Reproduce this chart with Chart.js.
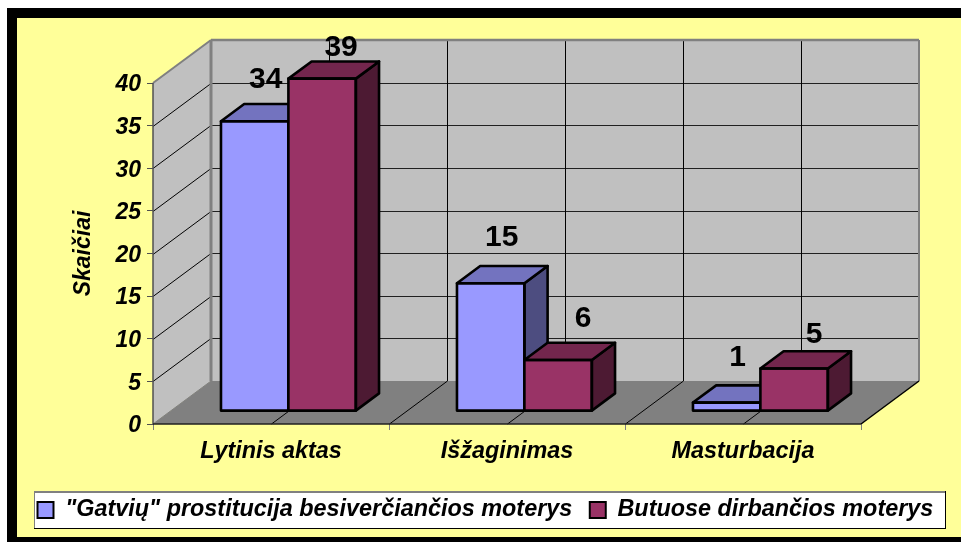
<!DOCTYPE html>
<html>
<head>
<meta charset="utf-8">
<script src="https://cdn.jsdelivr.net/npm/chart.js@4"></script>
<style>
    html, body { margin: 0; padding: 0; background: #ffffff; }
    #chart { display: block; }
</style>
</head>
<body>
<canvas id="chart" width="961" height="542"></canvas>
<script>
const categories = ['Lytinis aktas', 'Išžaginimas', 'Masturbacija'];
const seriesNames = ['"Gatvių" prostitucija besiverčiančios moterys', 'Butuose dirbančios moterys'];
const streetValues = [34, 15, 1];
const indoorValues = [39, 6, 5];

const font = 'Liberation Sans, Arial, sans-serif';
const depthX = 58;
const depthY = 43;
const wall = '#c0c0c0';
const edge = '#808080';

function poly(ctx, pts, fill, stroke, width) {
    ctx.beginPath();
    pts.forEach((p, i) => i ? ctx.lineTo(p[0], p[1]) : ctx.moveTo(p[0], p[1]));
    ctx.closePath();
    if (fill) { ctx.fillStyle = fill; ctx.fill(); }
    if (stroke) { ctx.strokeStyle = stroke; ctx.lineWidth = width; ctx.lineJoin = 'round'; ctx.stroke(); }
}

function line(ctx, x1, y1, x2, y2, color, width) {
    ctx.beginPath();
    ctx.moveTo(x1, y1);
    ctx.lineTo(x2, y2);
    ctx.strokeStyle = color;
    ctx.lineWidth = width;
    ctx.stroke();
}

const frame = {
    id: 'frame',
    afterLayout(chart) {
        // legend sits in its own box, not centred under the plot
        const lg = chart.legend;
        lg.left = 20;
        lg.right = 961;
        lg.top = 510 - lg.options.labels.font.size / 2 - lg.options.labels.padding;
        lg.bottom = 528;
    },
    beforeDraw(chart) {
        const ctx = chart.ctx;
        ctx.save();
        ctx.fillStyle = '#000000';
        ctx.fillRect(7, 8, 954, 534);
        ctx.fillStyle = '#ffff99';
        ctx.fillRect(17, 18, 944, 519);
        // legend box
        ctx.fillStyle = '#ffffff';
        ctx.fillRect(35, 491, 910, 37);
        line(ctx, 34.5, 491, 34.5, 529, edge, 1);
        line(ctx, 34, 492, 946, 492, edge, 2);
        line(ctx, 945.5, 491, 945.5, 529, '#000000', 1);
        line(ctx, 34, 528.5, 946, 528.5, '#000000', 1);
        ctx.restore();
    },
    beforeDatasetsDraw(chart) {
        const ctx = chart.ctx;
        const y = chart.scales.y;
        const l = chart.chartArea.left;
        const r = chart.chartArea.right;
        const t = chart.chartArea.top;
        const b = chart.chartArea.bottom;

        ctx.save();
        // walls and floor
        poly(ctx, [[l + depthX, t - depthY], [r + depthX, t - depthY], [r + depthX, b - depthY], [l + depthX, b - depthY]], wall);
        poly(ctx, [[l, b], [l, t], [l + depthX, t - depthY], [l + depthX, b - depthY]], wall);
        poly(ctx, [[l, b], [r, b], [r + depthX, b - depthY], [l + depthX, b - depthY]], edge);

        // horizontal grid on both walls
        y.ticks.forEach(tick => {
            if (tick.value === 0 || tick.value === y.max) return;
            const py = Math.round(y.getPixelForValue(tick.value)) + 0.5;
            line(ctx, l, py, l + depthX, py - depthY, '#000000', 1);
            line(ctx, l + depthX, py - depthY, r + depthX, py - depthY, '#202020', 1);
        });
        // vertical grid at category edges and centres
        const half = (r - l) / (categories.length * 2);
        for (let i = 1; i < categories.length * 2; i++) {
            const px = Math.round(l + half * i) + 0.5;
            line(ctx, px + depthX, t - depthY, px + depthX, b - depthY, '#000000', 1);
            line(ctx, px, b, px + depthX, b - depthY, '#000000', 1);
        }
        // wall edges
        line(ctx, l, t, l + depthX, t - depthY, edge, 2);
        line(ctx, l + depthX, t - depthY, r + depthX, t - depthY, edge, 2.5);
        line(ctx, l + depthX, t - depthY, l + depthX, b - depthY, edge, 3);
        line(ctx, r + depthX, t - depthY, r + depthX, b - depthY, edge, 2);
        line(ctx, l, b, l + depthX, b - depthY, edge, 1);
        line(ctx, r, b, r + depthX, b - depthY, '#000000', 1.5);

        // bars stand in the middle of the floor depth
        const ox = depthX * 0.3;
        const oy = -depthY * 0.3;
        const bx = depthX * 0.4;
        const by = -depthY * 0.4;
        const tops = ['#7373bf', '#73264d'];
        const sides = ['#4d4d80', '#4d1a33'];
        [0, 1].forEach(i => {
            const meta = chart.getDatasetMeta(i);
            ctx.save();
            ctx.translate(ox, oy);
            meta.controller.draw();
            ctx.restore();
            meta.data.forEach(bar => {
                const x0 = bar.x - bar.width / 2 + ox;
                const x1 = bar.x + bar.width / 2 + ox;
                const y0 = bar.y + oy;
                const y1 = bar.base + oy;
                poly(ctx, [[x1, y0], [x1 + bx, y0 + by], [x1 + bx, y1 + by], [x1, y1]], sides[i], '#000000', 2.6);
                poly(ctx, [[x0, y0], [x0 + bx, y0 + by], [x1 + bx, y0 + by], [x1, y0]], tops[i], '#000000', 2.6);
                poly(ctx, [[x0, y0], [x1, y0], [x1, y1], [x0, y1]], null, '#000000', 2.6);
            });
        });

        // axis lines over the floor
        line(ctx, l, t, l, b + 1, '#505050', 1.5);
        line(ctx, l, b, r, b, '#202020', 1.5);

        // value labels, hand placed like the original ones
        const shift = [
            [[11, -42], [11, -45], [11, -45]],
            [[19, -31], [25, -41], [20, -34]]
        ];
        ctx.font = 'bold 30px ' + font;
        ctx.fillStyle = '#000000';
        ctx.textAlign = 'center';
        ctx.textBaseline = 'middle';
        [0, 1].forEach(i => {
            const meta = chart.getDatasetMeta(i);
            meta.data.forEach((bar, j) => {
                ctx.fillText(String(chart.data.datasets[i].data[j]), bar.x + ox + shift[i][j][0], bar.y + oy + shift[i][j][1]);
            });
        });
        ctx.restore();
        return false;
    }
};

new Chart(document.getElementById('chart'), {
    type: 'bar',
    data: {
        labels: categories,
        datasets: [
            { label: seriesNames[0], data: streetValues, backgroundColor: '#9999ff', borderColor: '#000000', borderWidth: 0, inflateAmount: 0 },
            { label: seriesNames[1], data: indoorValues, backgroundColor: '#993366', borderColor: '#000000', borderWidth: 0, inflateAmount: 0 }
        ]
    },
    options: {
        responsive: false,
        animation: false,
        events: [],
        datasets: { bar: { barPercentage: 1, categoryPercentage: 1 / 1.75 } },
        layout: { padding: { left: 19, right: 0, top: 83, bottom: 14 } },
        plugins: {
            tooltip: { enabled: false },
            title: { display: false },
            legend: {
                position: 'bottom',
                align: 'start',
                labels: {
                    boxWidth: 16,
                    boxHeight: 16,
                    padding: 17.5,
                    color: '#000000',
                    font: { family: font, size: 23.4, weight: 'bold', style: 'italic' },
                    generateLabels(chart) {
                        return Chart.defaults.plugins.legend.labels.generateLabels(chart).map(item => {
                            item.lineWidth = 2;
                            item.strokeStyle = '#000000';
                            return item;
                        });
                    }
                }
            }
        },
        scales: {
            x: {
                offset: true,
                afterFit(s) { s.height = 542 - 14 - s.chart.legend.height - 424; },
                grid: { display: true, drawOnChartArea: false, drawTicks: true, offset: true, tickLength: 6, color: edge },
                border: { display: false },
                ticks: { color: '#000000', padding: 8, maxRotation: 0, font: { family: font, size: 23.4, weight: 'bold', style: 'italic' } }
            },
            y: {
                min: 0,
                max: 40,
                afterFit(s) { s.width = 153 - 19; },
                title: { display: true, text: 'Skaičiai', color: '#000000', padding: { top: 51, bottom: 0 }, font: { family: font, size: 23, weight: 'bold', style: 'italic' } },
                grid: { display: true, drawOnChartArea: false, drawTicks: true, tickLength: 6, color: '#505050' },
                border: { display: false },
                ticks: { stepSize: 5, color: '#000000', padding: 6, labelOffset: 2, font: { family: font, size: 23, weight: 'bold', style: 'italic' } }
            },
            // empty axis on the right, only keeps the plot 100px off the edge
            spacer: {
                position: 'right',
                afterFit(s) { s.width = 100; },
                grid: { display: false },
                border: { display: false },
                ticks: { display: false }
            }
        }
    },
    plugins: [frame]
});
</script>
</body>
</html>
